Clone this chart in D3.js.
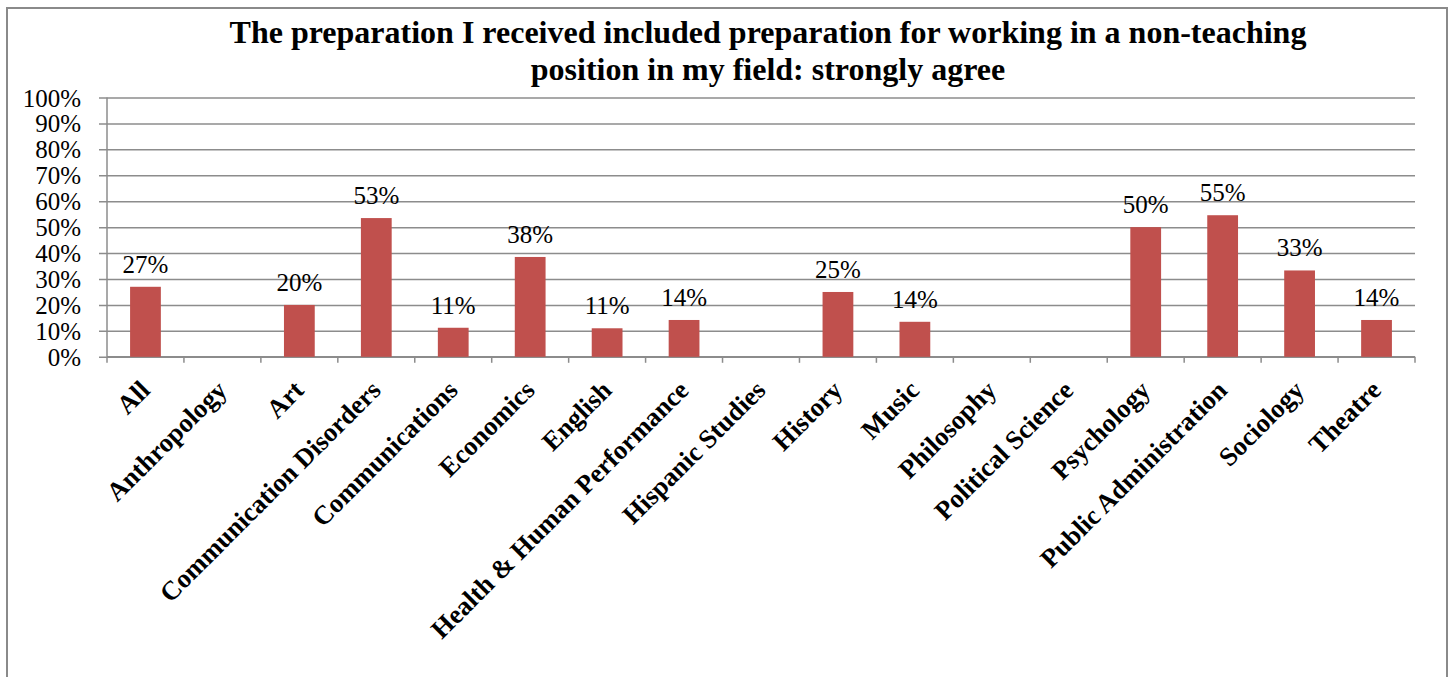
<!DOCTYPE html>
<html><head><meta charset="utf-8">
<script src="https://cdn.jsdelivr.net/npm/d3@7"></script>
<style>
html,body{margin:0;padding:0;background:#fff;}
svg{display:block;}
</style></head>
<body>
<svg id="chart" width="1452" height="677"></svg>
<script>
const titleLines = ["The preparation I received included preparation for working in a non-teaching", "position in my field: strongly agree"];
const categories = ["All","Anthropology","Art","Communication Disorders","Communications","Economics","English","Health & Human Performance","Hispanic Studies","History","Music","Philosophy","Political Science","Psychology","Public Administration","Sociology","Theatre"];
const values = [0.27,0,0.20,0.535,0.112,0.385,0.11,0.142,0,0.25,0.135,0,0,0.50,0.546,0.333,0.142];
const valueLabels = ["27%","","20%","53%","11%","38%","11%","14%","","25%","14%","","","50%","55%","33%","14%"];
const yTicks = [0,0.1,0.2,0.3,0.4,0.5,0.6,0.7,0.8,0.9,1.0];

const svg = d3.select("#chart");
const W = 1452, H = 677;
const serif = "'Liberation Serif','Times New Roman',serif";

// outer frame
svg.append("rect").attr("x",7).attr("y",8).attr("width",1440).attr("height",H+20)
  .attr("fill","#fff").attr("stroke","#8a8a8a").attr("stroke-width",2);

const m = {left:107, right:1415, top:97.5, bottom:356.8};
const x = d3.scaleBand().domain(categories).range([m.left,m.right]).paddingInner(0.6).paddingOuter(0.3);
const xTick = d3.scaleBand().domain(categories).range([m.left,m.right]);
const y = d3.scaleLinear().domain([0,1]).range([m.bottom,m.top]);

// gridlines + y tick labels
const yAxis = d3.axisLeft(y).tickValues(yTicks).tickFormat(d3.format(".0%")).tickSize(-(m.right-m.left)).tickPadding(0);
const gy = svg.append("g").attr("transform",`translate(${m.left},0)`).call(yAxis);
gy.select(".domain").remove();
gy.selectAll(".tick line").attr("stroke","#8c8c8c").attr("stroke-width",1.5).attr("x1",-8);
gy.selectAll(".tick text").attr("x",-26).attr("dy","0.34em").attr("font-family",serif).attr("font-size",25).attr("fill","#000");

// y axis line
svg.append("line").attr("x1",m.left).attr("x2",m.left).attr("y1",m.top).attr("y2",m.bottom)
  .attr("stroke","#8c8c8c").attr("stroke-width",1.5);

// x axis
const xAxis = d3.axisBottom(xTick).tickSize(0).tickFormat("");
const gx = svg.append("g").attr("transform",`translate(0,${m.bottom})`).call(xAxis);
gx.select(".domain").attr("stroke","#8c8c8c").attr("stroke-width",1.5).attr("d",`M${m.left},0H${m.right}`);
gx.selectAll(".tick").remove();
const boundaries = categories.map(c=>xTick(c)).concat([m.right]);
gx.selectAll("line.bt").data(boundaries).join("line").attr("class","bt")
  .attr("x1",d=>d).attr("x2",d=>d).attr("y1",0).attr("y2",6)
  .attr("stroke","#8c8c8c").attr("stroke-width",1.5);

// bars
svg.append("g").selectAll("rect").data(categories).join("rect")
  .attr("x",d=>x(d)).attr("width",x.bandwidth())
  .attr("y",(d,i)=>y(values[i])).attr("height",(d,i)=>y(0)-y(values[i]))
  .attr("fill","#C0504D");

// value labels
svg.append("g").selectAll("text").data(categories).join("text")
  .attr("x",d=>x(d)+x.bandwidth()/2).attr("y",(d,i)=>y(values[i])-14)
  .attr("text-anchor","middle").attr("font-family",serif).attr("font-size",25).attr("fill","#000")
  .text((d,i)=>valueLabels[i]);

// category labels
svg.append("g").selectAll("text").data(categories).join("text")
  .attr("transform",d=>`translate(${xTick(d)+xTick.bandwidth()/2+6},${m.bottom+35}) rotate(-45)`)
  .attr("text-anchor","end").attr("font-family",serif).attr("font-weight","bold").attr("font-size",26.5).attr("fill","#000")
  .text(d=>d);

// title
svg.append("g").selectAll("text").data(titleLines).join("text")
  .attr("x",768).attr("y",(d,i)=>43+i*37)
  .attr("text-anchor","middle").attr("font-family",serif).attr("font-weight","bold").attr("font-size",32).attr("fill","#000")
  .text(d=>d);
</script>
</body></html>
